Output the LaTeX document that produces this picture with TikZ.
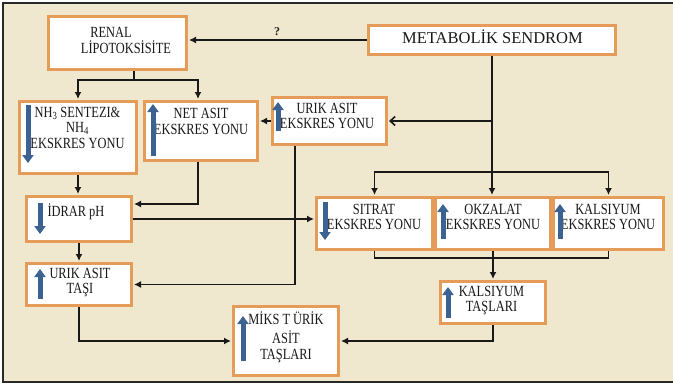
\documentclass[tikz,border=0pt]{standalone}
\usepackage{fontspec}
\setmainfont{Liberation Serif}
\newfontfamily\boxfont[FakeStretch=0.8]{Liberation Serif}
\usetikzlibrary{arrows.meta,calc}

\definecolor{paper}{RGB}{239,231,206}
\definecolor{boxedge}{RGB}{229,156,88}
\definecolor{markblue}{RGB}{59,98,145}
\definecolor{rulegray}{RGB}{40,40,40}

\tikzset{
  box/.style={draw=boxedge, line width=3pt, fill=white, rectangle, inner sep=0pt},
  lbl/.style={font=\boxfont\fontsize{15.5}{16}\selectfont, align=center, inner sep=0pt, text=black!90},
  link/.style={draw=black!90, line width=1.6pt},
  arr/.style={link, shorten >=1pt, -{Latex[length=7pt,width=7pt]}},
  openarr/.style={link, shorten >=1pt, -{Straight Barb[length=5pt,width=9pt]}},
  bluemark/.style={draw=markblue, line width=5pt, -{Triangle[length=8pt,width=11pt]}},
}

\begin{document}
\begin{tikzpicture}[x=1pt,y=-1pt]
  \path[use as bounding box, clip] (0,0) rectangle (673,384);

  % panel
  \fill[white] (0,0) rectangle (673,384);
  \fill[paper] (3,3) rectangle (680,381.5);
  \draw[rulegray, line width=2pt] (3,3) rectangle (680,381.5);

  % boxes
  \node[box, minimum width=138pt, minimum height=53pt] (renal)  at (117.5,43)  {};
  \node[box, minimum width=247pt, minimum height=29pt] (ms)     at (492,40)    {};
  \node[box, minimum width=117pt, minimum height=72pt] (nh)     at (78,137.5)  {};
  \node[box, minimum width=113pt, minimum height=59pt] (net)    at (201,131)   {};
  \node[box, minimum width=114pt, minimum height=47pt] (uae)    at (329.5,121) {};
  \node[box, minimum width=105pt, minimum height=45pt] (idrar)  at (79,219)    {};
  \node[box, minimum width=105pt, minimum height=42pt] (uat)    at (79,284.5)  {};
  \node[box, minimum width=105pt, minimum height=69pt] (mikst)  at (286,341)   {};
  \node[box, minimum width=116pt, minimum height=52pt] (sitrat) at (374.5,223.5) {};
  \node[box, minimum width=115pt, minimum height=52pt] (okz)    at (493,223.5) {};
  \node[box, minimum width=110pt, minimum height=52pt] (kal)    at (608.5,223.5) {};
  \node[box, minimum width=105pt, minimum height=42pt] (kt)     at (493,302.5) {};

  % box texts
  \node[lbl] (renal-t) at (126,40) {RENAL\rule{30pt}{0pt}\\LİPOTOKSİSİTE};
  \node[inner sep=0pt, text=black!90, font=\fontsize{16.5}{18}\selectfont] (ms-t) at (492.5,37) {METABOLİK SENDROM};
  \node[lbl] (nh-t) at (77.5,128) {NH\textsubscript{3} SENTEZI\&\\[-1pt]NH\textsubscript{4}\\EKSKRES YONU};
  \node[lbl] (net-t) at (201,121) {NET ASIT\\EKSKRES YONU};
  \node[lbl] (uae-t) at (327,116) {URIK ASIT\\[-1pt]EKSKRES YONU};
  \node[lbl, anchor=base] (idrar-t) at (76,216) {İDRAR pH};
  \node[lbl] (uat-t) at (80,283) {URIK ASIT\\[-1pt]TAŞI};
  \node[lbl] (mikst-t) at (286,337) {MİKS T ÜRİK\\[3pt]ASİT\\TAŞLARI};
  \node[lbl] (sitrat-t) at (374,217) {SITRAT\\[-1pt]EKSKRES YONU};
  \node[lbl] (okz-t) at (493,217) {OKZALAT\\[-1pt]EKSKRES YONU};
  \node[lbl] (kal-t) at (608,217) {KALSIYUM\\[-1pt]EKSKRES YONU};
  \node[lbl] (kt-t) at (491.5,301) {KALSIYUM\\[-1pt]TAŞLARI};

  % blue up/down marks
  \draw[bluemark] (28,105) -- (28,163);
  \draw[bluemark] (153,156) -- (153,104);
  \draw[bluemark] (278,131) -- (278,102);
  \draw[bluemark] (40,203) -- (40,234);
  \draw[bluemark] (40,299) -- (40,269);
  \draw[bluemark] (243,361) -- (243,316);
  \draw[bluemark] (325,202) -- (325,240);
  \draw[bluemark] (443,239) -- (443,204);
  \draw[bluemark] (560,239) -- (560,204);
  \draw[bluemark] (448,318) -- (448,287);

  % connectors
  \draw[arr] (ms.west) -- (renal.east |- ms.west);
  \node[inner sep=0pt, font=\bfseries\fontsize{12}{12}\selectfont, text=black!85] (q) at (277,32) {?};

  \coordinate (rs) at (134,80);
  \draw[link] (renal.south -| rs) -- (rs);
  \draw[arr] (rs) -| (nh.north);
  \draw[arr] (rs) -| ([xshift=-3pt]net.north);

  \coordinate (mk) at (492,172);
  \draw[link] (ms.south) -- (mk);
  \draw[openarr] (ms.south |- uae.east) -- (uae.east);
  \draw[arr] (mk) -| (sitrat.north);
  \draw[arr] (mk) -- (mk |- okz.north);
  \draw[arr] (mk) -| (kal.north);

  \draw[arr] (uae.west) -- (net.east |- uae.west);
  \draw[arr] (nh.south) -- (nh.south |- idrar.north);
  \draw[arr] ([xshift=-3pt]net.south) |- ([yshift=15pt]idrar.east);
  \draw[arr] (idrar.east) -- (idrar.east -| sitrat.west);
  \draw[arr] (idrar.south) -- (uat.north);
  \draw[arr] ([xshift=-34.5pt]uae.south) |- (uat.east);
  \draw[arr] (uat.south) |- (mikst.west);

  \coordinate (kj) at (493,258);
  \draw[link] (sitrat.south) |- (kj) -| (kal.south);
  \draw[link] (okz.south) -- (kj);
  \draw[arr] (kj) -- (kt.north);
  \draw[arr] (kt.south) |- (mikst.east);
\end{tikzpicture}
\end{document}
